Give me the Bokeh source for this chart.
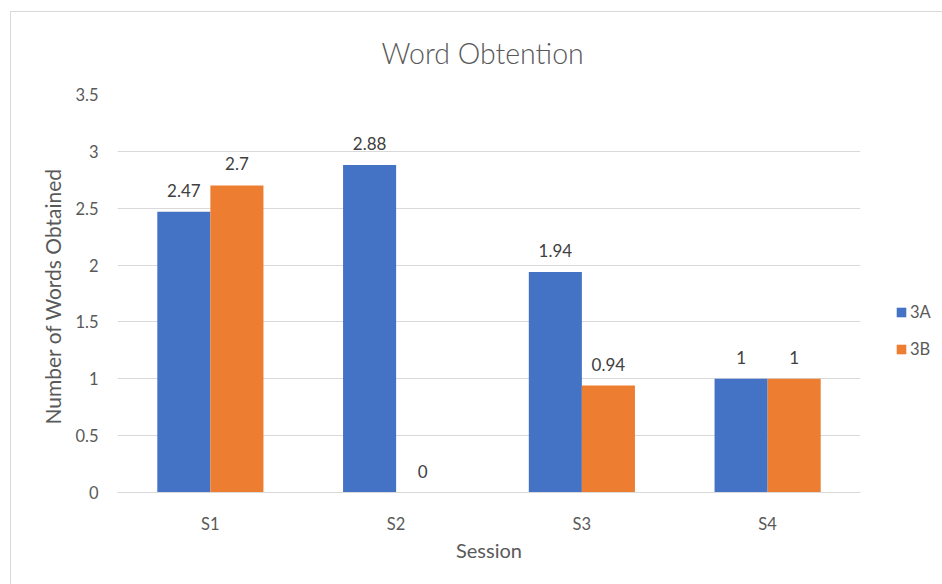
from bokeh.plotting import figure
from bokeh.models import (ColumnDataSource, FactorRange, Range1d, LabelSet, Legend, LegendItem,
                          FixedTicker, NumeralTickFormatter)
from bokeh.transform import dodge
from bokeh.core.properties import value
from bokeh.embed import file_html
from bokeh.resources import INLINE

sessions = ["S1", "S2", "S3", "S4"]
values_3a = [2.47, 2.88, 1.94, 1.0]
values_3b = [2.7, 0.0, 0.94, 1.0]
labels_3a = ["2.47", "2.88", "1.94", "1"]
labels_3b = ["2.7", "0", "0.94", "1"]
y_ticks = [0, 0.5, 1, 1.5, 2, 2.5, 3, 3.5]

FONT = "Lato"
TXT = "#595959"
BLUE = "#4472C4"
ORANGE = "#ED7D31"
GRID = "#D9D9D9"

src = ColumnDataSource(dict(x=sessions, a=values_3a, b=values_3b, la=labels_3a, lb=labels_3b))

p = figure(frame_width=743, frame_height=398, x_range=FactorRange(*sessions, range_padding=0),
           y_range=Range1d(0, 3.5), output_backend="svg", toolbar_location=None,
           min_border_left=106, min_border_right=82, min_border_top=82, min_border_bottom=92,
           title="Word Obtention")
p.styles = {"margin-left": "10px", "margin-top": "11px",
            "border-left": "1px solid #D9D9D9", "border-top": "1px solid #D9D9D9"}
p.outline_line_color = None
p.background_fill_color = "white"
p.border_fill_color = "white"

p.title.text_font = "Lato Light, Lato"
p.title.text_font_size = "28.5px"
p.title.text_font_style = "normal"
p.title.text_color = TXT
p.title.align = "left"
p.title.offset = 264
p.title.vertical_align = "top"
p.title.standoff = 46

bw = 1 / 3.5
ra = p.vbar(x=dodge("x", -bw / 2, range=p.x_range), top="a", width=bw, source=src,
            fill_color=BLUE, line_color=None)
rb = p.vbar(x=dodge("x", bw / 2, range=p.x_range), top="b", width=bw, source=src,
            fill_color=ORANGE, line_color=None)

for col, lab, off in (("a", "la", -bw / 2), ("b", "lb", bw / 2)):
    ls = LabelSet(x=dodge("x", off, range=p.x_range), y=col, text=lab, source=src,
                  text_align="center", text_baseline="alphabetic", y_offset=15,
                  text_font=value(FONT), text_font_size="17px", text_color="#404040")
    p.add_layout(ls)

# axes
p.xgrid.grid_line_color = None
p.ygrid.grid_line_color = GRID
p.ygrid.grid_line_width = 1
p.yaxis.ticker = FixedTicker(ticks=y_ticks)
p.yaxis.formatter = NumeralTickFormatter(format="0.[0]")
p.yaxis.axis_line_color = None
p.yaxis.major_label_standoff = 19
p.yaxis.axis_label = "Number of  Words Obtained"
p.yaxis.axis_label_standoff = 7

p.xaxis.axis_line_color = GRID
p.xaxis.major_label_standoff = 21
p.xaxis.axis_label = "Session"
p.xaxis.axis_label_standoff = 1

for ax in (p.xaxis, p.yaxis):
    ax.major_tick_line_color = None
    ax.minor_tick_line_color = None
    ax.major_tick_out = 0
    ax.major_tick_in = 0
    ax.minor_tick_out = 0
    ax.major_label_text_font = FONT
    ax.major_label_text_font_size = "16.5px"
    ax.major_label_text_color = TXT
    ax.axis_label_text_font = FONT
    ax.axis_label_text_font_style = "normal"
    ax.axis_label_text_color = TXT
p.xaxis.axis_label_text_font_size = "20px"
p.yaxis.axis_label_text_font_size = "21px"

legend = Legend(items=[LegendItem(label="3A", renderers=[ra]), LegendItem(label="3B", renderers=[rb])],
                location=(35, 133), orientation="vertical", padding=0, margin=20,
                border_line_color=None, background_fill_alpha=0,
                glyph_width=12, glyph_height=12, label_height=20, spacing=17, label_standoff=3,
                label_text_font=FONT, label_text_font_size="16.5px", label_text_color=TXT)
p.add_layout(legend, "right")

open("out.html", "w").write(file_html(p, INLINE))
